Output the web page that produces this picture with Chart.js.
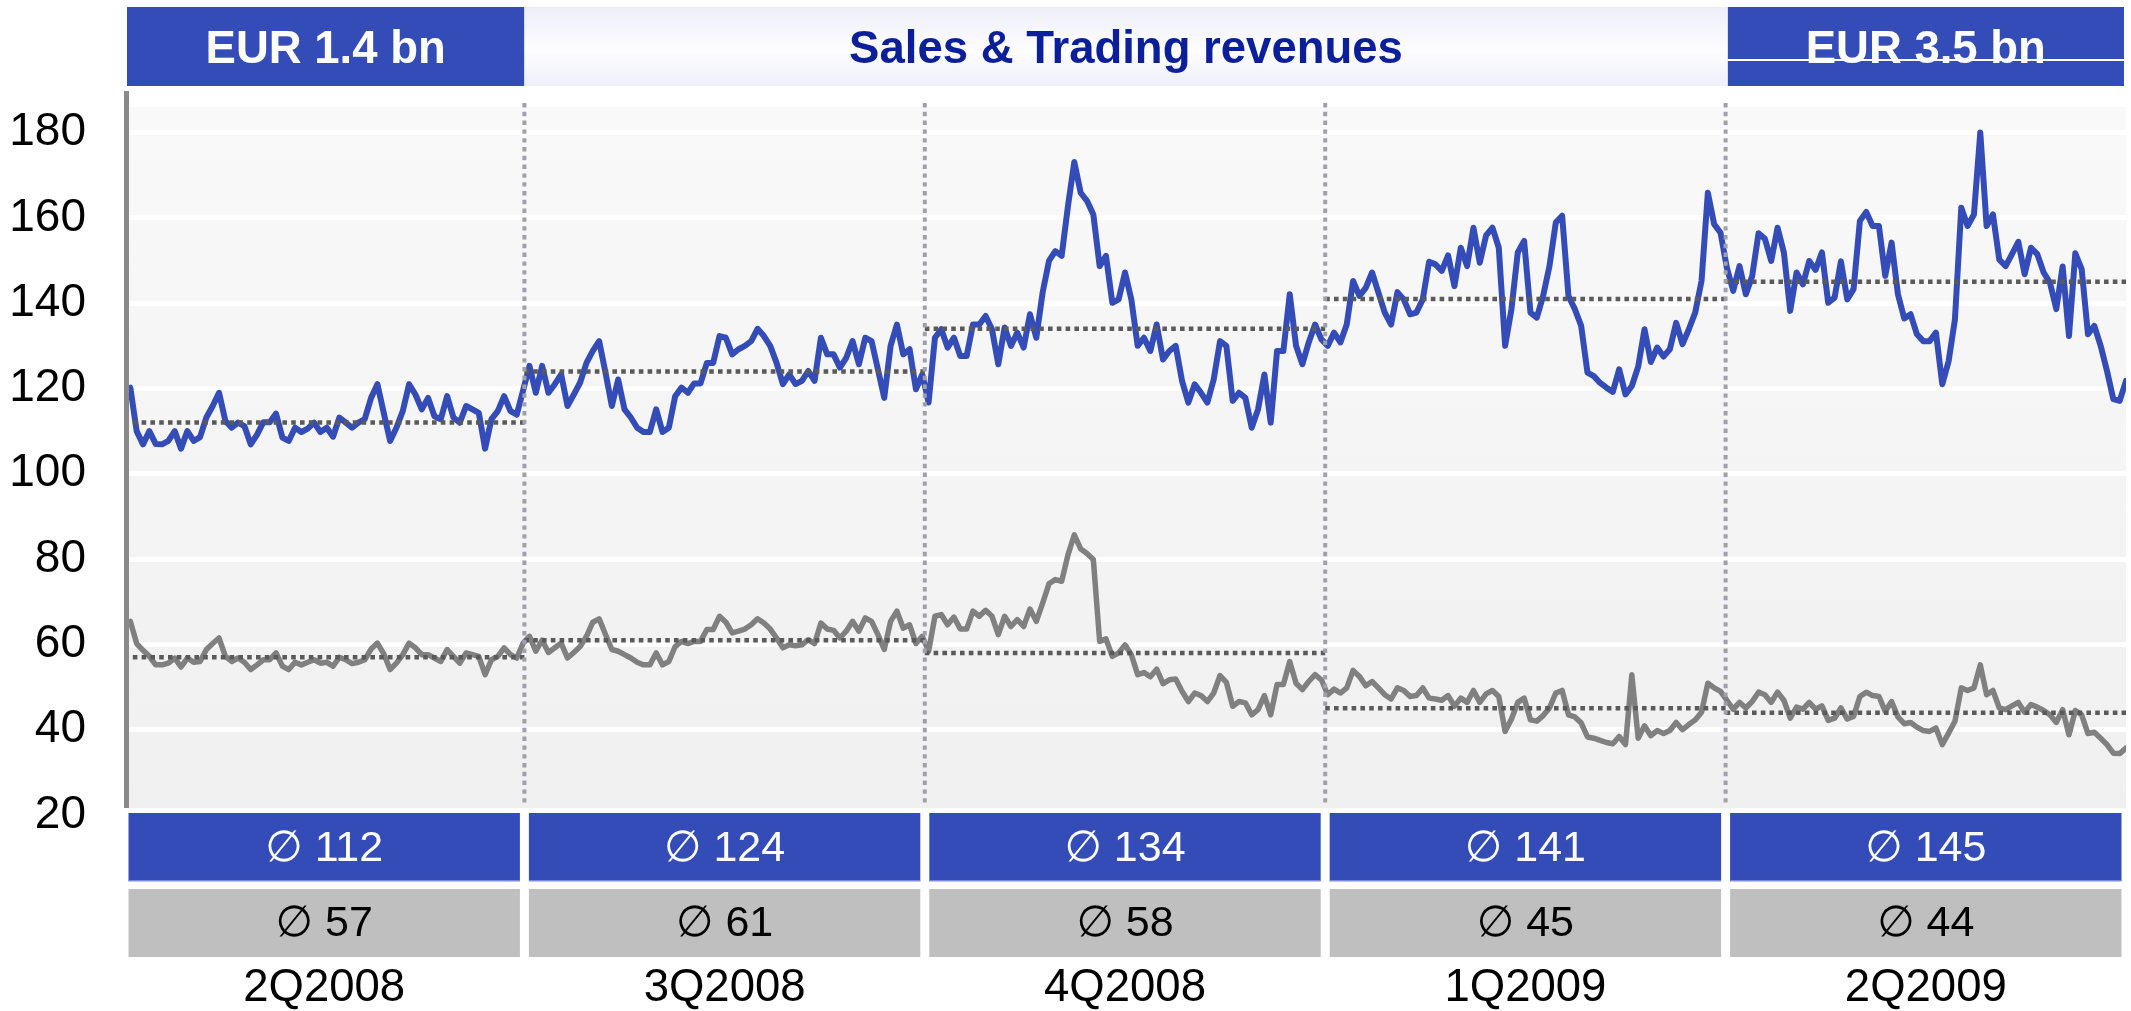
<!DOCTYPE html>
<html>
<head>
<meta charset="utf-8">
<script src="https://cdn.jsdelivr.net/npm/chart.js@4.4.1/dist/chart.umd.min.js"></script>
<style>
  html, body { margin: 0; padding: 0; background: #fff; overflow: hidden; }
  canvas { display: block; }
</style>
</head>
<body>
<canvas id="chart" width="2131" height="1011"></canvas>
<script>
// Quarters shown along the bottom
const quarterLabels = ['2Q2008', '3Q2008', '4Q2008', '1Q2009', '2Q2009'];

// Quarterly averages printed in the boxes under each quarter
const salesAvg = [112, 124, 134, 141, 145];
const greyAvg = [57, 61, 58, 45, 44];

// Header texts
const headerLeft = 'EUR 1.4 bn';
const headerTitle = 'Sales & Trading revenues';
const headerRight = 'EUR 3.5 bn';

// Y axis tick values
const yTickValues = [20, 40, 60, 80, 100, 120, 140, 160, 180];

// Daily values, blue series, one array per quarter
const blue2Q08 = [120.2,110,106.9,110,107,106.9,107.7,110,105.9,110,
  107.7,108.6,113.2,115.9,119,112.4,110.8,112,111.2,106.9,
  109.2,112.1,112.1,114.1,108.5,107.7,110.8,109.8,110.6,112,
  109.8,110.8,108.7,113.2,112,110.8,112,112.8,117.8,121,
  114.3,107.7,110.8,114.7,121,118.6,115.1,117.8,113.5,112.8,
  118.2,113.2,112,115.9,115.1,114.3,105.9,112.8,114.7,118.2,
  114.7,113.9];
const blue3Q08 = [119.6,125.3,119,125.3,119,121,123.3,115.9,118.6,121.4,
  126,128.8,131.1,123.7,115.9,122.1,115.1,113.2,110.8,109.8,
  109.8,115.1,109.8,110.8,118.2,120.2,119,121.2,121.2,126,
  126,132.3,131.9,128,129.2,130,131.1,134,132.3,130,
  126,121,123.3,121,121.8,124.1,121.8,131.9,128,128,
  124.9,127.2,131.1,125.7,131.9,131.1,124.5,117.8,130,135,
  128,129.2,119.8,123.3];
const blue4Q08 = [116.7,131.9,133.9,129.6,131.9,127.6,127.6,135,135,137,
  133.9,125.7,134.3,130,133.1,129.6,137.4,131.9,142.5,149.9,
  152.2,151.1,162.8,173.1,165.9,164,160.8,148.7,151.1,140.1,
  140.9,147.2,140.9,130,131.9,128.8,135,126.8,128.8,130,
  121.8,116.7,121,119,116.7,122.1,131.1,130,117.1,119,
  117.8,110.8,115.1,123.3,112,128.8,128.8,142.1,130,125.7,
  130.8,135,131.5];
const blue1Q09 = [130,133.1,130.8,135,145.2,141.7,143.6,147.2,142.5,137.8,
  135,142.6,140.9,137.4,137.8,140.9,149.7,149.1,147.6,151.2,
  144,153,148.7,157.7,149.5,155.9,157.7,153,130,138.6,
  151.9,154.6,137.8,136.6,141.7,148.7,158.9,160.5,141.7,138.6,
  134.7,123.7,122.9,121.3,120.2,119.2,124.5,118.6,120.6,125.1,
  133.9,126.2,129.6,127.5,129.2,135.4,130.4,133.9,137.8,145.2,
  165.9,158.5,156.5];
const blue2Q09 = [148.3,142.9,148.7,142.1,146.4,156.4,155.1,149.9,157.7,151.9,
  138.2,147.2,144.4,149.9,147.8,151.9,140.1,141.3,149.8,140.9,
  143.3,159.3,161.4,158.1,158.1,146.4,154.2,142.1,136.4,137.4,
  132.7,131.1,131.1,133.1,121,126.4,136.2,162.4,158.1,160.8,
  180,158.1,160.8,150.2,148.7,151.5,154.4,146.8,153,151.5,
  147.2,144.8,138.6,148.6,132.3,151.7,148,132.7,134.7,130,
  124.1,117.5,117.1,121.8];

// Daily values, grey series, one array per quarter
const grey2Q08 = [65.4,60.2,58.6,57.2,55.2,55.2,55.6,56.8,54.7,56.8,
  55.8,56,58.8,60.2,61.5,57.2,56,56.8,55.8,54.1,
  55.2,56.4,56.4,58,54.9,54.1,55.8,55.2,55.8,56.4,
  55.6,55.8,54.9,57,56.4,55.5,55.8,56.4,58.9,60.3,
  57.8,54.1,55.6,57.6,60.3,59.2,57.6,57.6,56.8,56,
  58.8,57.2,55.6,58,57.6,57.2,52.9,56.4,57.2,59.2,
  57.6,56.8];
const grey3Q08 = [60.3,61.9,58.4,61,58.1,59.2,60.3,56.8,58.1,59.5,
  61.9,65.2,66,62.3,58.8,58.4,57.6,56.8,55.8,55.2,
  55.2,58,55.2,56,59.5,60.7,60.2,60.7,60.7,63.5,
  63.5,66.6,65.2,62.7,63.1,63.6,64.6,66,65,63.6,
  61.5,59.2,59.9,59.7,59.9,61.1,60.2,65,63.6,63.3,
  61.5,63.1,65.4,63.1,66.2,65.4,62.3,58.8,65.4,67.8,
  63.8,64.6,60.2,61.9];
const grey4Q08 = [58.4,66.6,67,64.6,66.4,63.6,63.6,67.8,66.6,68,
  66.6,62.3,66.6,64.2,65.8,64.2,68.3,65.4,69.7,74.2,
  75.2,74.8,81,85.7,82.4,81.3,79.9,60.7,61.3,57.2,
  58,59.9,57.6,52.9,53.4,52.4,54.2,50.8,51.7,51.9,
  49,46.6,48.6,48,46.6,48.6,52.7,51.1,45.5,46.6,
  46.3,43.5,44.7,48,43.5,50.6,50.6,56,50.9,49.4,
  51.3,52.9,51.7];
const grey1Q09 = [48.2,49.5,48.6,49.8,53.9,52.5,50.3,51.3,49.8,48.2,
  47.2,49.8,49.2,47.8,48,49.8,47.4,47.2,46.9,48,
  45.5,47.4,46.4,49.2,46.4,48.4,49.2,47.8,39.6,42.5,
  46.4,47.4,42.3,42,43.3,45.1,48.6,49.2,43.5,43,
  41.6,38.3,38,37.5,37,36.7,38.4,36.5,52.9,38,
  40.9,38.6,39.8,39.1,39.8,41.7,40,41.2,42.3,44.1,
  50.9,49.8,49];
const grey2Q09 = [46.9,44.8,46.4,45.1,46.6,48.8,48.2,46.4,48.8,46.9,
  42.7,45.3,44.8,46.4,44.8,45.6,42.2,42.7,45.1,42.5,
  43.1,47.8,48.8,48,47.8,44.3,46.6,43,41.4,41.7,
  40.6,39.8,39.6,40.4,36.5,39.2,42,49.8,49.2,49.8,
  55.2,48.2,49.2,45.1,44.7,45.6,46.4,44.1,45.9,45.3,
  44.5,43.5,41.7,44.7,38.8,44.5,43.5,39.1,39.4,38,
  36.5,34.5,34.4,35.7];

const blueDaily = [].concat(blue2Q08, blue3Q08, blue4Q08, blue1Q09, blue2Q09);
const greyDaily = [].concat(grey2Q08, grey3Q08, grey4Q08, grey1Q09, grey2Q09);

const BLUE = '#344cb8';
const GREY = '#808080';
const FONT = "'Liberation Sans', Arial, 'DejaVu Sans', sans-serif";

// x runs over trading-day index; the five quarters split the range evenly
const xMin = -1;
const xMax = blueDaily.length - 1;
const nQ = quarterLabels.length;
const qEdge = k => xMin + (xMax - xMin) * k / nQ;

const toPoints = arr => arr.map((v, i) => ({ x: i, y: v }));

const avgSets = [];
quarterLabels.forEach((q, k) => {
  [[salesAvg, 'avg-blue'], [greyAvg, 'avg-grey']].forEach(([arr, name]) => {
    avgSets.push({
      label: name + ' ' + q,
      data: [{ x: qEdge(k), y: arr[k] }, { x: qEdge(k + 1), y: arr[k] }],
      borderColor: '#5a5a5a',
      borderWidth: 4.5,
      borderDash: [4.6, 4.2],
      pointRadius: 0,
      order: 0
    });
  });
});

const decor = {
  id: 'decor',
  beforeDraw(chart) {
    const { ctx, chartArea: a } = chart;
    ctx.save();
    ctx.fillStyle = '#ffffff';
    ctx.fillRect(0, 0, chart.width, chart.height);
    const g = ctx.createLinearGradient(0, a.top, 0, a.bottom);
    g.addColorStop(0, '#f9f9f9');
    g.addColorStop(1, '#f0f0f0');
    ctx.fillStyle = g;
    ctx.fillRect(a.left, a.top, a.right - a.left, a.bottom - 7 - a.top);
    ctx.restore();
  },
  afterDatasetsDraw(chart) {
    const { ctx, chartArea: a, scales: { x } } = chart;
    ctx.save();
    ctx.strokeStyle = '#a0a0aa';
    ctx.lineWidth = 4;
    ctx.setLineDash([4.4, 4.4]);
    for (let k = 1; k < nQ; k++) {
      const px = x.getPixelForValue(qEdge(k));
      ctx.beginPath();
      ctx.moveTo(px, a.top - 4);
      ctx.lineTo(px, a.bottom - 12);
      ctx.stroke();
    }
    ctx.restore();
  },
  afterDraw(chart) {
    const { ctx, chartArea: a, scales: { x } } = chart;
    const px = k => x.getPixelForValue(qEdge(k));
    ctx.save();

    // left axis bar
    ctx.fillStyle = '#8a8a8a';
    ctx.fillRect(a.left, a.top - 16, 5, a.bottom - 7 - (a.top - 16));

    // header row
    const hTop = 7, hH = 79;
    const e0 = px(0) + 3, e1 = px(1), e4 = px(nQ - 1) + 2, e5 = px(nQ) - 2;
    ctx.fillStyle = BLUE;
    ctx.fillRect(e0, hTop, e1 - e0, hH);
    ctx.fillRect(e4, hTop, e5 - e4, hH);
    const hg = ctx.createLinearGradient(0, hTop, 0, hTop + hH);
    hg.addColorStop(0, '#eeeefa');
    hg.addColorStop(0.55, '#fdfdff');
    hg.addColorStop(1, '#efeffb');
    ctx.fillStyle = hg;
    ctx.fillRect(e1, hTop, e4 - e1, hH);

    ctx.font = 'bold 45.5px ' + FONT;
    ctx.textAlign = 'center';
    ctx.textBaseline = 'alphabetic';
    ctx.fillStyle = '#ffffff';
    ctx.fillText(headerLeft, (e0 + e1) / 2, 63);
    ctx.fillText(headerRight, (e4 + e5) / 2, 63);
    ctx.fillStyle = '#0b1f9a';
    ctx.fillText(headerTitle, (e1 + e4) / 2, 63);
    // thin rule across the right header box
    ctx.fillStyle = '#ffffff';
    ctx.fillRect(e4, 59, e5 - e4, 2);

    // average boxes under each quarter
    ctx.font = '43px ' + FONT;
    ctx.textBaseline = 'middle';
    for (let k = 0; k < nQ; k++) {
      const l = px(k) + 4.5, r = px(k + 1) - 4.5, cx = (l + r) / 2;
      ctx.fillStyle = BLUE;
      ctx.fillRect(l, 813, r - l, 68);
      ctx.fillStyle = '#7b8ad6';
      ctx.fillRect(l, 880, r - l, 1.5);
      ctx.fillStyle = '#ffffff';
      ctx.fillText('\u2205 ' + salesAvg[k], cx, 849);
      ctx.fillStyle = '#bfbfbf';
      ctx.fillRect(l, 889, r - l, 68);
      ctx.fillStyle = '#000000';
      ctx.fillText('\u2205 ' + greyAvg[k], cx, 924);
    }
    ctx.restore();
  }
};

new Chart(document.getElementById('chart'), {
  type: 'line',
  data: {
    datasets: [
      {
        label: 'Sales & Trading',
        data: toPoints(blueDaily),
        borderColor: BLUE,
        borderWidth: 6,
        pointRadius: 0,
        borderJoinStyle: 'round',
        borderCapStyle: 'round',
        tension: 0,
        order: 1
      },
      {
        label: 'Grey series',
        data: toPoints(greyDaily),
        borderColor: GREY,
        borderWidth: 5.5,
        pointRadius: 0,
        borderJoinStyle: 'round',
        borderCapStyle: 'round',
        tension: 0,
        order: 2
      },
      ...avgSets
    ]
  },
  options: {
    responsive: false,
    animation: false,
    devicePixelRatio: 1,
    layout: { padding: { top: 107, right: 5, left: 0, bottom: 0 } },
    plugins: { legend: { display: false }, tooltip: { enabled: false } },
    scales: {
      x: {
        type: 'linear',
        min: xMin,
        max: xMax,
        grid: { display: false, drawTicks: true, tickLength: 146 },
        border: { display: false },
        afterBuildTicks: s => {
          s.ticks = quarterLabels.map((_, k) => ({ value: (qEdge(k) + qEdge(k + 1)) / 2 }));
        },
        afterFit: s => { s.height = 196; },
        ticks: {
          autoSkip: false,
          maxRotation: 0,
          padding: 0,
          color: '#000000',
          font: { family: FONT, size: 45.5 },
          callback: (v, i) => quarterLabels[i]
        }
      },
      y: {
        min: 20,
        max: 186,
        afterBuildTicks: s => { s.ticks = yTickValues.map(v => ({ value: v })); },
        afterFit: s => { s.width = 124; },
        grid: {
          drawTicks: false,
          lineWidth: 5,
          color: c => (c.tick && c.tick.value === yTickValues[0]) ? 'rgba(0,0,0,0)' : '#ffffff'
        },
        border: { display: false },
        ticks: {
          padding: 38,
          color: '#000000',
          font: { family: FONT, size: 46 }
        }
      }
    }
  },
  plugins: [decor]
});
</script>
</body>
</html>
